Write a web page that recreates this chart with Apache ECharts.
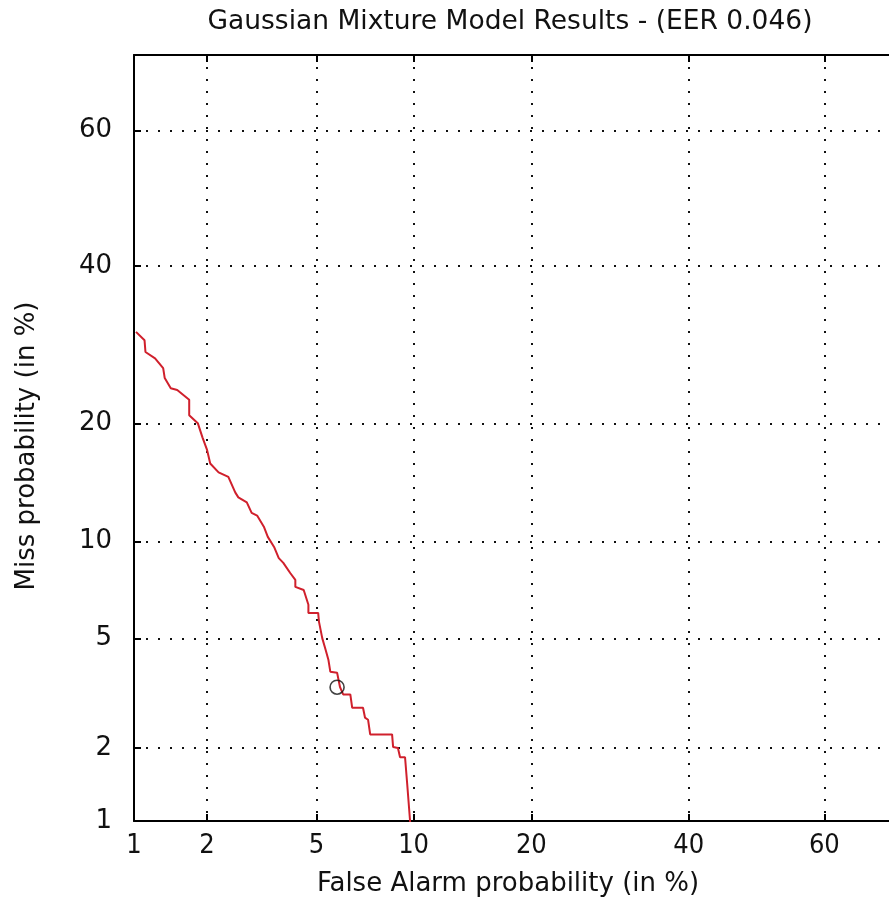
<!DOCTYPE html>
<html>
<head>
<meta charset="utf-8">
<script src="https://cdn.jsdelivr.net/npm/echarts@6/dist/echarts.min.js"></script>
<style>html,body{margin:0;padding:0;background:#fff}#c{width:889px;height:911px}</style>
</head>
<body>
<div id="c"></div>
<script>
// ---- data (percent) ----
const titleText = 'Gaussian Mixture Model Results - (EER 0.046)';
const xAxisName = 'False Alarm probability (in %)';
const yAxisName = 'Miss probability (in %)';
const xTicks = [1, 2, 5, 10, 20, 40, 60];
const yTicks = [1, 2, 5, 10, 20, 40, 60];
const axisMinPct = 1;
const axisMaxPct = 70.4;
const falseAlarm = [1.02,1.11,1.12,1.23,1.33,1.35,1.43,1.52,1.70,1.70,1.84,1.92,2.00,2.06,2.22,2.42,2.57,2.64,2.84,2.96,3.10,3.28,3.39,3.57,3.71,3.85,4.07,4.24,4.24,4.53,4.70,4.70,5.07,5.10,5.23,5.36,5.48,5.56,5.85,5.98,6.12,6.45,6.54,7.07,7.17,7.33,7.44,8.66,8.72,9.01,9.14,9.45,9.58,9.70,9.77,9.77];
const missProb   = [30.9,29.8,28.3,27.5,26.3,25.1,23.9,23.7,22.6,20.9,20.05,18.6,17.4,16.1,15.3,14.9,13.6,13.2,12.8,12.0,11.8,11.0,10.3,9.64,8.95,8.66,8.08,7.7,7.33,7.17,6.45,6.07,6.07,5.69,5.02,4.6,4.24,3.85,3.82,3.39,3.19,3.19,2.85,2.85,2.62,2.57,2.26,2.26,2.02,2.0,1.84,1.84,1.45,1.45,1.0,0.8];
const eerPoint = [5.85, 3.39];

// ---- normal deviate (probit) transform ----
function probit(p) {
  const a=[-3.969683028665376e+01,2.209460984245205e+02,-2.759285104469687e+02,1.383577518672690e+02,-3.066479806614716e+01,2.506628277459239e+00];
  const b=[-5.447609879822406e+01,1.615858368580409e+02,-1.556989798598866e+02,6.680131188771972e+01,-1.328068155288572e+01];
  const c=[-7.784894002430293e-03,-3.223964580411365e-01,-2.400758277161838e+00,-2.549732539343734e+00,4.374664141464968e+00,2.938163982698783e+00];
  const d=[7.784695709041462e-03,3.224671290700398e-01,2.445134137142996e+00,3.754408661907416e+00];
  const pl=0.02425, ph=1-pl; let q,r;
  if (p<pl){q=Math.sqrt(-2*Math.log(p));return (((((c[0]*q+c[1])*q+c[2])*q+c[3])*q+c[4])*q+c[5])/((((d[0]*q+d[1])*q+d[2])*q+d[3])*q+1);}
  if (p<=ph){q=p-0.5;r=q*q;return (((((a[0]*r+a[1])*r+a[2])*r+a[3])*r+a[4])*r+a[5])*q/(((((b[0]*r+b[1])*r+b[2])*r+b[3])*r+b[4])*r+1);}
  q=Math.sqrt(-2*Math.log(1-p));return -(((((c[0]*q+c[1])*q+c[2])*q+c[3])*q+c[4])*q+c[5])/((((d[0]*q+d[1])*q+d[2])*q+d[3])*q+1);
}
const pz = v => probit(v / 100);
function labelFor(ticks) {
  const zs = ticks.map(pz);
  return v => { let best = 0; zs.forEach((z, i) => { if (Math.abs(z - v) < Math.abs(zs[best] - v)) best = i; }); return String(ticks[best]); };
}

const font = '"DejaVu Sans", Verdana, sans-serif';
const narrow = '"DejaVu Sans Condensed", "Liberation Sans Narrow", "DejaVu Sans", sans-serif';
const gridLine = { show: true, lineStyle: { color: '#111', width: 2, type: [2, 10] } };
const axisLine = { show: true, onZero: false, lineStyle: { color: '#000', width: 2 } };

const chart = echarts.init(document.getElementById('c'));
chart.setOption({
  animation: false,
  backgroundColor: '#fff',
  title: { text: titleText, left: 505, top: 4, textAlign: 'center',
    textStyle: { fontFamily: font, fontSize: 26.5, fontWeight: 'normal', color: '#111' } },
  grid: { left: 134, top: 55, width: 766, height: 766, outerBoundsMode: 'none', containLabel: false },
  xAxis: [{
    type: 'value', min: pz(axisMinPct), max: pz(axisMaxPct), position: 'bottom',
    name: xAxisName, nameLocation: 'middle', nameGap: 50,
    nameTextStyle: { fontFamily: font, fontSize: 26, color: '#111', padding: [0, 18, 0, 0] },
    axisLine: axisLine,
    axisTick: { show: true, inside: true, length: 7, customValues: xTicks.map(pz), lineStyle: { color: '#000', width: 2 } },
    axisLabel: { customValues: xTicks.map(pz), formatter: labelFor(xTicks), margin: 11, fontFamily: narrow, fontSize: 27, color: '#111' },
    splitLine: gridLine
  }, {
    type: 'value', min: pz(axisMinPct), max: pz(axisMaxPct), position: 'top',
    axisLine: axisLine,
    axisTick: { show: true, inside: true, length: 7, customValues: xTicks.map(pz), lineStyle: { color: '#000', width: 2 } },
    axisLabel: { show: false }, splitLine: { show: false }
  }],
  yAxis: [{
    type: 'value', min: pz(axisMinPct), max: pz(axisMaxPct), position: 'left',
    name: yAxisName, nameLocation: 'middle', nameGap: 94, nameRotate: 90,
    nameTextStyle: { fontFamily: font, fontSize: 26, color: '#111', padding: [0, 16, 0, 0] },
    axisLine: axisLine,
    axisTick: { show: true, inside: true, length: 7, customValues: yTicks.map(pz), lineStyle: { color: '#000', width: 2 } },
    axisLabel: { customValues: yTicks.map(pz), formatter: labelFor(yTicks), margin: 22, fontFamily: font, fontSize: 26, color: '#111' },
    splitLine: gridLine
  }],
  series: [{
    type: 'line', xAxisIndex: 0, yAxisIndex: 0,
    data: falseAlarm.map((x, i) => [pz(x), pz(missProb[i])]),
    showSymbol: false, clip: true,
    lineStyle: { color: '#d0202c', width: 2 }, z: 3
  }, {
    type: 'scatter', xAxisIndex: 0, yAxisIndex: 0,
    data: [[pz(eerPoint[0]), pz(eerPoint[1])]],
    symbol: 'circle', symbolSize: 14,
    itemStyle: { color: 'rgba(0,0,0,0)', borderColor: '#111', borderWidth: 1.6 }, z: 4
  }]
});
</script>
</body>
</html>
